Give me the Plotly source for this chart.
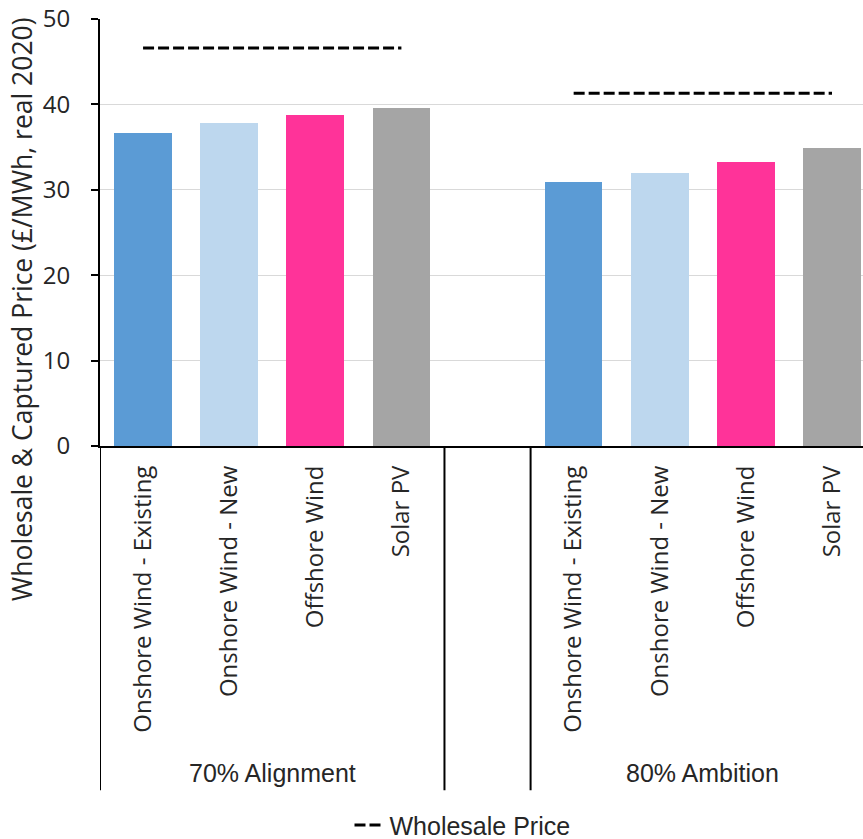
import plotly.graph_objects as go

# ---- data ----
technologies = ["Onshore Wind - Existing", "Onshore Wind - New", "Offshore Wind", "Solar PV"]
scenarios = ["70% Alignment", "80% Ambition"]
captured_70 = [36.7, 37.8, 38.8, 39.6]
captured_80 = [30.9, 32.0, 33.2, 34.9]
wholesale = [46.6, 41.3]
colors = ["#5B9BD5", "#BDD7EE", "#FF3399", "#A5A5A5"]
y_ticks = [0, 10, 20, 30, 40, 50]

# positions: group 1 at 0..3, blank slot at 4, group 2 at 5..8
pos_70 = [0, 1, 2, 3]
pos_80 = [5, 6, 7, 8]

fig = go.Figure()

fig.add_trace(go.Bar(
    x=pos_70 + pos_80,
    y=captured_70 + captured_80,
    marker=dict(color=colors + colors, line=dict(width=0)),
    width=0.67,
    showlegend=False,
    hoverinfo="y",
))

dash_style = "11px,4px"
fig.add_trace(go.Scatter(
    x=[pos_70[0], pos_70[-1]], y=[wholesale[0], wholesale[0]],
    mode="lines", line=dict(color="black", width=3, dash=dash_style),
    name="Wholesale Price", showlegend=True,
))
fig.add_trace(go.Scatter(
    x=[pos_80[0], pos_80[-1]], y=[wholesale[1], wholesale[1]],
    mode="lines", line=dict(color="black", width=3, dash=dash_style),
    name="Wholesale Price", showlegend=False,
))

sans = "Open Sans, Noto Sans, sans-serif"
tick_font = dict(family=sans, size=24, color="#262626")
group_font = dict(family="Liberation Sans, sans-serif", size=25, color="#262626")

fig.update_layout(
    width=863, height=839,
    margin=dict(l=100, r=0, t=19, b=393, autoexpand=False),
    plot_bgcolor="white", paper_bgcolor="white",
    bargap=0,
    xaxis=dict(
        range=[-0.5, 8.36],
        tickmode="array",
        tickvals=pos_70 + pos_80,
        ticktext=technologies + technologies,
        tickangle=-90,
        tickfont=tick_font,
        ticklabelstandoff=8,
        showline=True, linecolor="black", linewidth=2,
        showgrid=False, zeroline=False,
        ticks="", ticklen=0,
    ),
    yaxis=dict(
        range=[0, 50],
        tickvals=y_ticks,
        tickfont=dict(family=sans, size=24, color="#262626"),
        showline=True, linecolor="black", linewidth=2,
        ticks="outside", ticklen=7, tickwidth=2, tickcolor="black",
        ticklabelstandoff=16,
        showgrid=True, gridcolor="#D9D9D9", gridwidth=1,
        zeroline=False,
    ),
    legend=dict(
        orientation="h",
        x=0.327, xanchor="left",
        y=-0.888, yanchor="middle",
        font=dict(family="Liberation Sans, sans-serif", size=25, color="#262626"),
        bgcolor="rgba(0,0,0,0)",
    ),
)

# y-axis title
fig.add_annotation(
    text="Wholesale & Captured Price (£/MWh, real 2020)",
    xref="paper", yref="paper",
    x=-0.102, y=(446 - 309) / 427,
    xanchor="center", yanchor="middle",
    textangle=-90, showarrow=False,
    font=dict(family=sans, size=26.5, color="#262626"),
)

# group labels
group_centers = [sum(pos_70) / len(pos_70), sum(pos_80) / len(pos_80)]
for name, xc in zip(scenarios, group_centers):
    fig.add_annotation(
        text=name, xref="x", yref="paper",
        x=xc, y=-0.766, xanchor="center", yanchor="middle",
        showarrow=False, font=group_font,
    )

# group divider lines (axis extension + separators)
for xv in [pos_70[0] - 0.5, pos_70[-1] + 0.5, pos_80[0] - 0.5]:
    fig.add_shape(
        type="line", xref="x", yref="paper",
        x0=xv, x1=xv, y0=0, y1=-0.806,
        line=dict(color="black", width=2),
    )

fig.write_html("out.html", config={"displayModeBar": False})

# remove the browser's default page margin so the figure fills the window
with open("out.html", "r", encoding="utf-8") as f:
    html = f.read()
html = html.replace("<head>", "<head><style>html,body{margin:0;padding:0;overflow:hidden;}</style>", 1)
with open("out.html", "w", encoding="utf-8") as f:
    f.write(html)
